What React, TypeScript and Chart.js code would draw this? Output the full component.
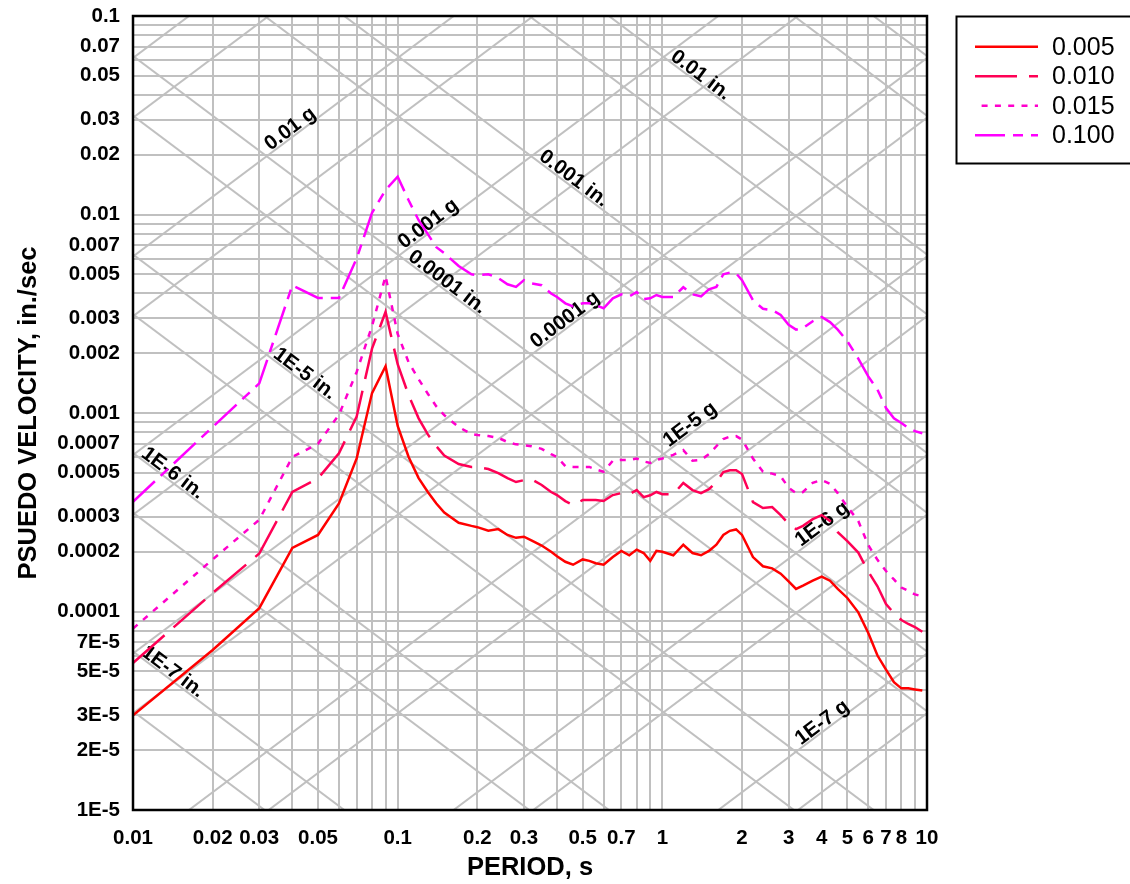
import React, { useEffect, useRef } from 'react';
import { Chart, registerables } from 'chart.js';

Chart.register(...registerables);

// ---------------- data ----------------
const PERIODS = [
  0.01, 0.02, 0.03, 0.04, 0.05, 0.06, 0.07, 0.08, 0.09, 0.1,
  0.11, 0.12, 0.13, 0.14, 0.15, 0.17, 0.19, 0.2, 0.22, 0.24,
  0.26, 0.28, 0.3, 0.32, 0.35, 0.38, 0.4, 0.43, 0.46, 0.5,
  0.53, 0.56, 0.6, 0.65, 0.7, 0.75, 0.8, 0.85, 0.9, 0.95,
  1.0, 1.1, 1.2, 1.3, 1.4, 1.5, 1.6, 1.7, 1.8, 1.9,
  2.0, 2.2, 2.4, 2.6, 2.8, 3.0, 3.2, 3.4, 3.7, 4.0,
  4.3, 4.6, 5.0, 5.5, 6.0, 6.5, 7.0, 7.5, 8.0, 8.5,
  9.0, 9.6,
];

const PSV_005 = [
  3.0e-5, 6.4e-5, 1.04e-4, 2.09e-4, 2.43e-4, 3.5e-4, 5.9e-4, 1.26e-3, 1.72e-3, 8.6e-4,
  6.0e-4, 4.7e-4, 4.0e-4, 3.5e-4, 3.15e-4, 2.8e-4, 2.7e-4, 2.66e-4, 2.55e-4, 2.6e-4,
  2.43e-4, 2.35e-4, 2.38e-4, 2.28e-4, 2.15e-4, 2.0e-4, 1.9e-4, 1.78e-4, 1.72e-4, 1.83e-4,
  1.8e-4, 1.75e-4, 1.72e-4, 1.88e-4, 2.02e-4, 1.92e-4, 2.05e-4, 1.97e-4, 1.8e-4, 2.02e-4,
  2.0e-4, 1.92e-4, 2.17e-4, 1.97e-4, 1.92e-4, 2.02e-4, 2.17e-4, 2.43e-4, 2.55e-4, 2.59e-4,
  2.43e-4, 1.88e-4, 1.69e-4, 1.65e-4, 1.55e-4, 1.42e-4, 1.3e-4, 1.35e-4, 1.43e-4, 1.5e-4,
  1.43e-4, 1.3e-4, 1.17e-4, 9.9e-5, 7.8e-5, 6.0e-5, 5.1e-5, 4.4e-5, 4.1e-5, 4.1e-5,
  4.05e-5, 4.0e-5,
];

const PSV_010 = [
  5.5e-5, 1.24e-4, 1.96e-4, 4.0e-4, 4.68e-4, 6.26e-4, 9.6e-4, 2.11e-3, 3.23e-3, 1.76e-3,
  1.23e-3, 9.4e-4, 7.8e-4, 6.8e-4, 6.1e-4, 5.53e-4, 5.34e-4, 5.34e-4, 5.22e-4, 4.98e-4,
  4.7e-4, 4.49e-4, 4.59e-4, 4.64e-4, 4.34e-4, 4.0e-4, 3.86e-4, 3.6e-4, 3.44e-4, 3.64e-4,
  3.64e-4, 3.64e-4, 3.6e-4, 3.86e-4, 3.95e-4, 3.9e-4, 4.09e-4, 3.77e-4, 3.85e-4, 4.0e-4,
  3.9e-4, 3.9e-4, 4.44e-4, 4.09e-4, 3.95e-4, 4.13e-4, 4.49e-4, 5.04e-4, 5.15e-4, 5.15e-4,
  4.93e-4, 3.56e-4, 3.32e-4, 3.36e-4, 3.06e-4, 2.76e-4, 2.6e-4, 2.7e-4, 2.92e-4, 3.06e-4,
  2.86e-4, 2.51e-4, 2.26e-4, 1.98e-4, 1.59e-4, 1.34e-4, 1.09e-4, 9.8e-5, 9.06e-5, 8.65e-5,
  8.35e-5, 7.9e-5,
];

const PSV_015 = [
  8.2e-5, 1.83e-4, 2.9e-4, 6.0e-4, 7.0e-4, 9.8e-4, 1.61e-3, 2.74e-3, 4.9e-3, 2.5e-3,
  1.8e-3, 1.48e-3, 1.25e-3, 1.08e-3, 9.75e-4, 8.5e-4, 7.83e-4, 7.74e-4, 7.65e-4, 7.5e-4,
  7.14e-4, 6.95e-4, 6.89e-4, 6.8e-4, 6.6e-4, 6.2e-4, 6.0e-4, 5.4e-4, 5.35e-4, 5.35e-4,
  5.35e-4, 5.2e-4, 5.06e-4, 5.75e-4, 5.8e-4, 5.8e-4, 5.9e-4, 5.7e-4, 5.6e-4, 5.8e-4,
  5.9e-4, 6.15e-4, 6.5e-4, 5.75e-4, 5.8e-4, 6.2e-4, 6.8e-4, 7.4e-4, 7.6e-4, 7.65e-4,
  7.35e-4, 5.9e-4, 5.06e-4, 4.95e-4, 4.8e-4, 4.2e-4, 3.95e-4, 4.0e-4, 4.45e-4, 4.6e-4,
  4.4e-4, 3.95e-4, 3.37e-4, 2.86e-4, 2.16e-4, 1.82e-4, 1.6e-4, 1.45e-4, 1.32e-4, 1.27e-4,
  1.22e-4, 1.19e-4,
];

const PSV_100 = [
  3.57e-4, 8.5e-4, 1.41e-3, 4.4e-3, 3.8e-3, 3.8e-3, 6.0e-3, 1.02e-2, 1.33e-2, 1.55e-2,
  1.18e-2, 9.36e-3, 7.96e-3, 6.84e-3, 6.38e-3, 5.5e-3, 5.0e-3, 4.95e-3, 5.0e-3, 4.78e-3,
  4.45e-3, 4.32e-3, 4.67e-3, 4.5e-3, 4.4e-3, 4.0e-3, 3.84e-3, 3.57e-3, 3.44e-3, 3.57e-3,
  3.57e-3, 3.5e-3, 3.37e-3, 3.78e-3, 3.96e-3, 3.87e-3, 4.07e-3, 3.75e-3, 3.78e-3, 3.93e-3,
  3.84e-3, 3.84e-3, 4.3e-3, 3.96e-3, 3.87e-3, 4.2e-3, 4.32e-3, 5.0e-3, 5.1e-3, 5.05e-3,
  4.67e-3, 3.7e-3, 3.35e-3, 3.3e-3, 3.12e-3, 2.78e-3, 2.63e-3, 2.68e-3, 2.9e-3, 3.05e-3,
  2.87e-3, 2.63e-3, 2.3e-3, 1.88e-3, 1.53e-3, 1.31e-3, 1.06e-3, 9.4e-4, 8.9e-4, 8.4e-4,
  8.1e-4, 7.9e-4,
];

const SERIES_LABELS = ['0.005', '0.010', '0.015', '0.100'];

const X_TICK_LABELS = ['0.01', '0.02', '0.03', '0.05', '0.1', '0.2', '0.3', '0.5', '0.7', '1', '2', '3', '4', '5', '6', '7', '8', '10'];
const Y_TICK_LABELS = [
  '0.1', '0.07', '0.05', '0.03', '0.02', '0.01', '0.007', '0.005', '0.003', '0.002',
  '0.001', '0.0007', '0.0005', '0.0003', '0.0002', '0.0001', '7E-5', '5E-5', '3E-5', '2E-5', '1E-5',
];

// Diagonal label texts, their level and the period where they sit on their line
const DISP_LABEL_TEXT = ['0.01 in.', '0.001 in.', '0.0001 in.', '1E-5 in.', '1E-6 in.', '1E-7 in.'];
const DISP_LABEL_LEVEL = [0.01, 0.001, 0.0001, 1e-5, 1e-6, 1e-7];
const DISP_LABEL_PERIOD = [1.342, 0.4446, 0.1479, 0.04282, 0.01358, 0.01358];

const ACC_LABEL_TEXT = ['0.01 g', '0.001 g', '0.0001 g', '1E-5 g', '1E-6 g', '1E-7 g'];
const ACC_LABEL_LEVEL = [0.01, 0.001, 0.0001, 1e-5, 1e-6, 1e-7];
const ACC_LABEL_PERIOD = [0.0409, 0.136, 0.4467, 1.3255, 4.18, 4.18];

const X_TITLE = 'PERIOD, s';
const Y_TITLE = 'PSUEDO VELOCITY, in./sec';

// ---------------- styles ----------------
const FONT = '"Liberation Sans", Arial, Helvetica, sans-serif';
const GRID_COLOR = '#c0c0c0';
const GRID_WIDTH = 2;
const G_IN = 386.09;
const TWO_PI = 2 * Math.PI;

const SERIES_STYLE = [
  { color: '#ff0000', dash: [] as number[], offset: 0 },
  { color: '#ff0055', dash: [42, 12], offset: 0 },
  { color: '#ff00cc', dash: [6, 7.3], offset: 6.7 },
  { color: '#ff00ff', dash: [30, 8, 10, 8], offset: 0 },
];
const SERIES_VALUES = [PSV_005, PSV_010, PSV_015, PSV_100];

function decadeTicks(minExp: number, maxExp: number): number[] {
  const out: number[] = [];
  for (let e = minExp; e < maxExp; e++) {
    for (let m = 1; m <= 9; m++) out.push(+(m * Math.pow(10, e)).toPrecision(4));
  }
  out.push(+Math.pow(10, maxExp).toPrecision(4));
  return out;
}

function levelValues(): number[] {
  const out: number[] = [];
  for (let e = -11; e <= 1; e++) {
    out.push(Math.pow(10, e));
    out.push(5 * Math.pow(10, e));
  }
  return out;
}

function labelFor(list: string[], v: number): string {
  for (const s of list) {
    const n = parseFloat(s);
    if (Math.abs(n / v - 1) < 1e-6) return s;
  }
  return '';
}

const tripartitePlugin = {
  id: 'tripartite',
  beforeDatasetsDraw(chart: any) {
    const { ctx, chartArea: a } = chart;
    const xs = chart.scales.x;
    const ys = chart.scales.y;
    const px = (t: number) => xs.getPixelForValue(t);
    const py = (v: number) => ys.getPixelForValue(v);
    ctx.save();
    ctx.beginPath();
    ctx.rect(a.left, a.top, a.right - a.left, a.bottom - a.top);
    ctx.clip();
    ctx.strokeStyle = GRID_COLOR;
    ctx.lineWidth = GRID_WIDTH;
    const t1 = 0.001;
    const t2 = 100;
    for (const lv of levelValues()) {
      // displacement lines: PSV = 2*pi*D/T
      ctx.beginPath();
      ctx.moveTo(px(t1), py((TWO_PI * lv) / t1));
      ctx.lineTo(px(t2), py((TWO_PI * lv) / t2));
      ctx.stroke();
      // acceleration lines: PSV = A*g*T/(2*pi)
      ctx.beginPath();
      ctx.moveTo(px(t1), py((lv * G_IN * t1) / TWO_PI));
      ctx.lineTo(px(t2), py((lv * G_IN * t2) / TWO_PI));
      ctx.stroke();
    }
    ctx.restore();

    // labels along diagonals
    ctx.save();
    ctx.fillStyle = '#000';
    ctx.font = `bold 20.5px ${FONT}`;
    ctx.textAlign = 'center';
    ctx.textBaseline = 'alphabetic';
    const drawLabel = (text: string, fn: (t: number) => number, t: number) => {
      const x0 = px(t), y0 = py(fn(t));
      const x1 = px(t * 1.2), y1 = py(fn(t * 1.2));
      const ang = Math.atan2(y1 - y0, x1 - x0);
      ctx.save();
      ctx.translate(x0, y0);
      ctx.rotate(ang);
      ctx.fillText(text, 0, -2);
      ctx.restore();
    };
    DISP_LABEL_TEXT.forEach((txt, i) => {
      const d = DISP_LABEL_LEVEL[i];
      drawLabel(txt, (t) => (TWO_PI * d) / t, DISP_LABEL_PERIOD[i]);
    });
    ACC_LABEL_TEXT.forEach((txt, i) => {
      const A = ACC_LABEL_LEVEL[i];
      drawLabel(txt, (t) => (A * G_IN * t) / TWO_PI, ACC_LABEL_PERIOD[i]);
    });
    ctx.restore();
  },
  afterDraw(chart: any) {
    const { ctx, chartArea: a } = chart;
    ctx.save();
    // frame
    ctx.strokeStyle = '#000';
    ctx.lineWidth = 2.5;
    ctx.strokeRect(a.left, a.top, a.right - a.left, a.bottom - a.top);

    // axis titles
    ctx.fillStyle = '#000';
    ctx.font = `bold 25.5px ${FONT}`;
    ctx.textAlign = 'center';
    ctx.textBaseline = 'alphabetic';
    ctx.fillText(X_TITLE, (a.left + a.right) / 2, 875);
    ctx.save();
    ctx.translate(36, (a.top + a.bottom) / 2);
    ctx.rotate(-Math.PI / 2);
    ctx.fillText(Y_TITLE, 0, 0);
    ctx.restore();

    // legend
    ctx.lineWidth = 2;
    ctx.strokeStyle = '#000';
    ctx.strokeRect(956.5, 16.5, 200, 147);
    ctx.font = `25px ${FONT}`;
    ctx.textAlign = 'left';
    ctx.textBaseline = 'middle';
    SERIES_LABELS.forEach((lab, i) => {
      const yy = 46.7 + i * 29.5;
      const st = SERIES_STYLE[i];
      ctx.save();
      ctx.strokeStyle = st.color;
      ctx.lineWidth = 2.5;
      ctx.setLineDash(st.dash);
      ctx.lineDashOffset = st.offset;
      ctx.beginPath();
      ctx.moveTo(975, yy);
      ctx.lineTo(1038, yy);
      ctx.stroke();
      ctx.restore();
      ctx.fillStyle = '#000';
      ctx.fillText(lab, 1052, yy + 1);
    });
    ctx.restore();
  },
};

export default function App() {
  const canvasRef = useRef<HTMLCanvasElement | null>(null);

  useEffect(() => {
    const canvas = canvasRef.current;
    if (!canvas) return;
    const xGrid = decadeTicks(-2, 1);
    const yGrid = decadeTicks(-5, -1);
    const tickFont = { family: FONT, size: 20.5, weight: 'bold' as const };

    const chart = new Chart(canvas, {
      type: 'line',
      data: {
        datasets: SERIES_LABELS.map((lab, i) => ({
          label: lab,
          data: PERIODS.map((t, k) => ({ x: t, y: SERIES_VALUES[i][k] })),
          borderColor: SERIES_STYLE[i].color,
          backgroundColor: SERIES_STYLE[i].color,
          borderWidth: 2.5,
          borderDash: SERIES_STYLE[i].dash,
          pointRadius: 0,
          pointHoverRadius: 0,
          fill: false,
          tension: 0,
        })),
      },
      options: {
        responsive: false,
        animation: false,
        events: [],
        layout: { padding: { left: 0, top: 16, right: 203, bottom: 0 } },
        plugins: {
          legend: { display: false },
          tooltip: { enabled: false },
          title: { display: false },
        },
        scales: {
          x: {
            type: 'logarithmic',
            min: 0.01,
            max: 10,
            afterBuildTicks: (s: any) => {
              s.ticks = xGrid.map((v) => ({ value: v }));
            },
            afterFit: (s: any) => {
              s.height = 74;
              s.paddingLeft = 0;
              s.paddingRight = 0;
              s.paddingTop = 0;
              s.paddingBottom = 0;
            },
            grid: { color: GRID_COLOR, lineWidth: GRID_WIDTH, drawTicks: false },
            border: { display: false },
            ticks: {
              autoSkip: false,
              maxRotation: 0,
              minRotation: 0,
              padding: 16,
              color: '#000',
              font: tickFont,
              callback: (v: any) => labelFor(X_TICK_LABELS, Number(v)),
            },
          },
          y: {
            type: 'logarithmic',
            min: 1e-5,
            max: 0.1,
            afterBuildTicks: (s: any) => {
              s.ticks = yGrid.map((v) => ({ value: v }));
            },
            afterFit: (s: any) => {
              s.width = 133;
              s.paddingLeft = 0;
              s.paddingRight = 0;
              s.paddingTop = 0;
              s.paddingBottom = 0;
            },
            grid: { color: GRID_COLOR, lineWidth: GRID_WIDTH, drawTicks: false },
            border: { display: false },
            ticks: {
              autoSkip: false,
              padding: 13,
              color: '#000',
              font: tickFont,
              callback: (v: any) => labelFor(Y_TICK_LABELS, Number(v)),
            },
          },
        },
      } as any,
      plugins: [tripartitePlugin as any],
    });
    return () => chart.destroy();
  }, []);

  return (
    <div style={{ position: 'fixed', left: 0, top: 0, width: 1130, height: 884, background: '#fff' }}>
      <canvas ref={canvasRef} width={1130} height={884} style={{ display: 'block', width: 1130, height: 884 }} />
    </div>
  );
}
